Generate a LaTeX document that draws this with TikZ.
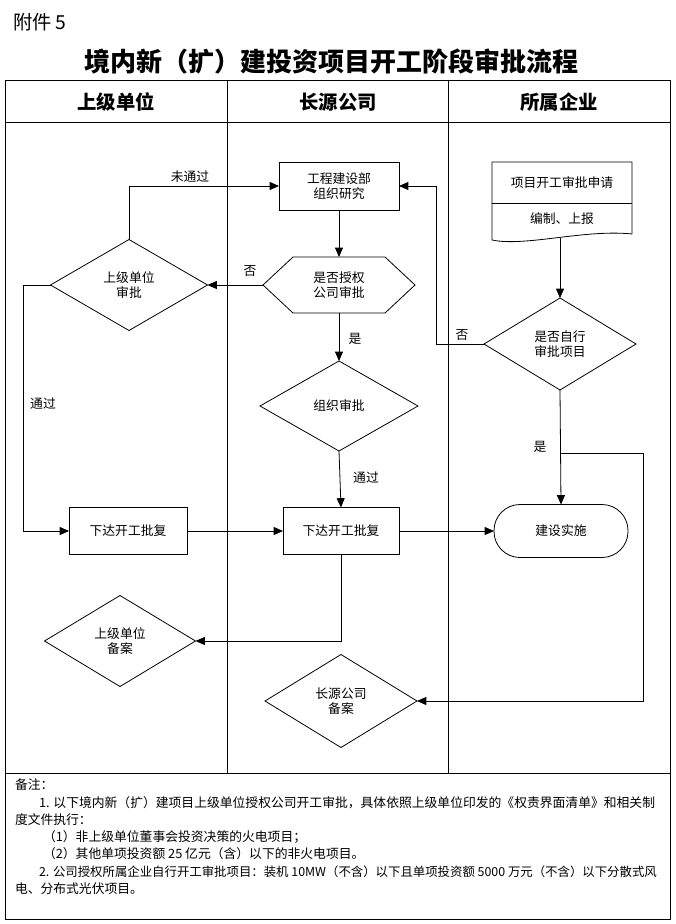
\documentclass[tikz,border=0pt]{standalone}
\usepackage{fontspec}
\setmainfont{Noto Sans CJK SC}
\usetikzlibrary{shapes.geometric,arrows.meta}
\begin{document}
\begin{tikzpicture}[x=0.75pt,y=-0.75pt,
  every node/.style={font=\fontsize{9.6pt}{11.5pt}\selectfont, align=center, inner sep=0pt, outer sep=0pt},
  box/.style={draw, line width=0.6pt, rectangle},
  dia/.style={draw, line width=0.6pt, diamond},
  arr/.style={line width=0.6pt, -{Triangle[length=7pt,width=6pt]}},
  ln/.style={line width=0.6pt},
  lbl/.style={font=\fontsize{9.6pt}{11.5pt}\selectfont},
  head/.style={font=\fontsize{14.5pt}{16pt}\selectfont\bfseries},
  note/.style={anchor=west, font=\fontsize{9.6pt}{11.5pt}\selectfont}]
\useasboundingbox (0,0) rectangle (675,924);
\fill[white] (0,0) rectangle (675,924);
% header texts
\node[anchor=west, font=\fontsize{14.5pt}{16pt}\selectfont] (att) at (13,22) {附件 5};
\node[font=\fontsize{19.5pt}{22pt}\selectfont\bfseries] (title) at (331,62) {境内新（扩）建投资项目开工阶段审批流程};
% frame
\draw[ln] (5,80) rectangle (670,919);
\draw[ln] (5,122) -- (670,122);
\draw[ln] (227,80) -- (227,773);
\draw[ln] (448,80) -- (448,773);
\draw[ln] (5,773) -- (670,773);
\node[head] (h1) at (116,102) {上级单位};
\node[head] (h2) at (338,102) {长源公司};
\node[head] (h3) at (559,102) {所属企业};
% nodes
\node[box, minimum width=90pt, minimum height=36pt] (r1) at (339,186) {工程建设部\\组织研究};
\draw[ln] (263,285) -- (293,257) -- (385,257) -- (415,285) -- (385,313) -- (293,313) -- cycle;
\node[minimum width=114pt, minimum height=42pt] (hex) at (339,285) {是否授权\\公司审批};
\node[dia, minimum width=117.75pt, minimum height=68.25pt] (d1) at (129,285) {上级单位\\审批};
\node[dia, minimum width=118.5pt, minimum height=67.5pt] (d2) at (339,406) {组织审批};
\node[box, minimum width=88.5pt, minimum height=35.25pt] (r2) at (128,531) {下达开工批复};
\node[box, minimum width=87pt, minimum height=35.25pt] (r3) at (341,531) {下达开工批复};
\node[draw, line width=0.6pt, rounded corners=19.5pt, minimum width=100.5pt, minimum height=39.75pt] (s) at (561,531) {建设实施};
% document shape
\draw[ln] (632,234) -- (632,162) -- (492,162) -- (492,240) .. controls (525,247) and (585,229) .. (632,234);
\draw[ln] (492,203) -- (632,203);
\node (doc1) at (562,183) {项目开工审批申请};
\node (doc2) at (562,219) {编制、上报};
\coordinate (docb) at (560,238);
\node[dia, minimum width=114pt, minimum height=69pt] (d3) at (560,344) {是否自行\\审批项目};
\node[dia, minimum width=113.25pt, minimum height=68.25pt] (d4) at (120,641) {上级单位\\备案};
\node[dia, minimum width=114pt, minimum height=69.75pt] (d5) at (341,701) {长源公司\\备案};
% connectors
\draw[arr] (d1.north) |- (r1.west);
\node[lbl] (l1) at (190,177) {未通过};
\draw[arr] (r1.south) -- (hex.north);
\draw[arr] (hex.west) -- (d1.east);
\node[lbl] (l2) at (250,271) {否};
\draw[arr] (hex.south) -- (d2.north);
\node[lbl] (l3) at (355,339) {是};
\coordinate (k0) at (23,285);
\draw[arr] (d1.west) -- (k0) |- (r2.west);
\node[lbl] (l4) at (43,404) {通过};
\draw[arr] (r2.east) -- (r3.west);
\draw[arr] (d2.south) -- (r3.north);
\node[lbl] (l5) at (366,478) {通过};
\draw[arr] (r3.east) -- (s.west);
\draw[arr] (docb) -- (d3.north);
\coordinate (k1) at (436,344);
\draw[arr] (d3.west) -- (k1) |- (r1.east);
\node[lbl] (l6) at (462,335) {否};
\draw[arr] (d3.south) -- (s.north);
\node[lbl] (l7) at (540,447) {是};
\coordinate (b1) at (560,453);
\coordinate (b2) at (643,453);
\draw[arr] (b1) -- (b2) |- (d5.east);
\draw[arr] (r3.south) |- (d4.east);
% notes
\node[note] (n0) at (15,785) {备注：};
\node[note] (n1) at (39,803) {1. 以下境内新（扩）建项目上级单位授权公司开工审批，具体依照上级单位印发的《权责界面清单》和相关制};
\node[note] (n2) at (15,820) {度文件执行：};
\node[note] (n3) at (43,837) {（1）非上级单位董事会投资决策的火电项目；};
\node[note] (n4) at (43,854) {（2）其他单项投资额 25 亿元（含）以下的非火电项目。};
\node[note, font=\fontsize{9.3pt}{11.5pt}\selectfont] (n5) at (39,872) {2. 公司授权所属企业自行开工审批项目：装机 10MW（不含）以下且单项投资额 5000 万元（不含）以下分散式风};
\node[note] (n6) at (15,889) {电、分布式光伏项目。};
\end{tikzpicture}
\end{document}
